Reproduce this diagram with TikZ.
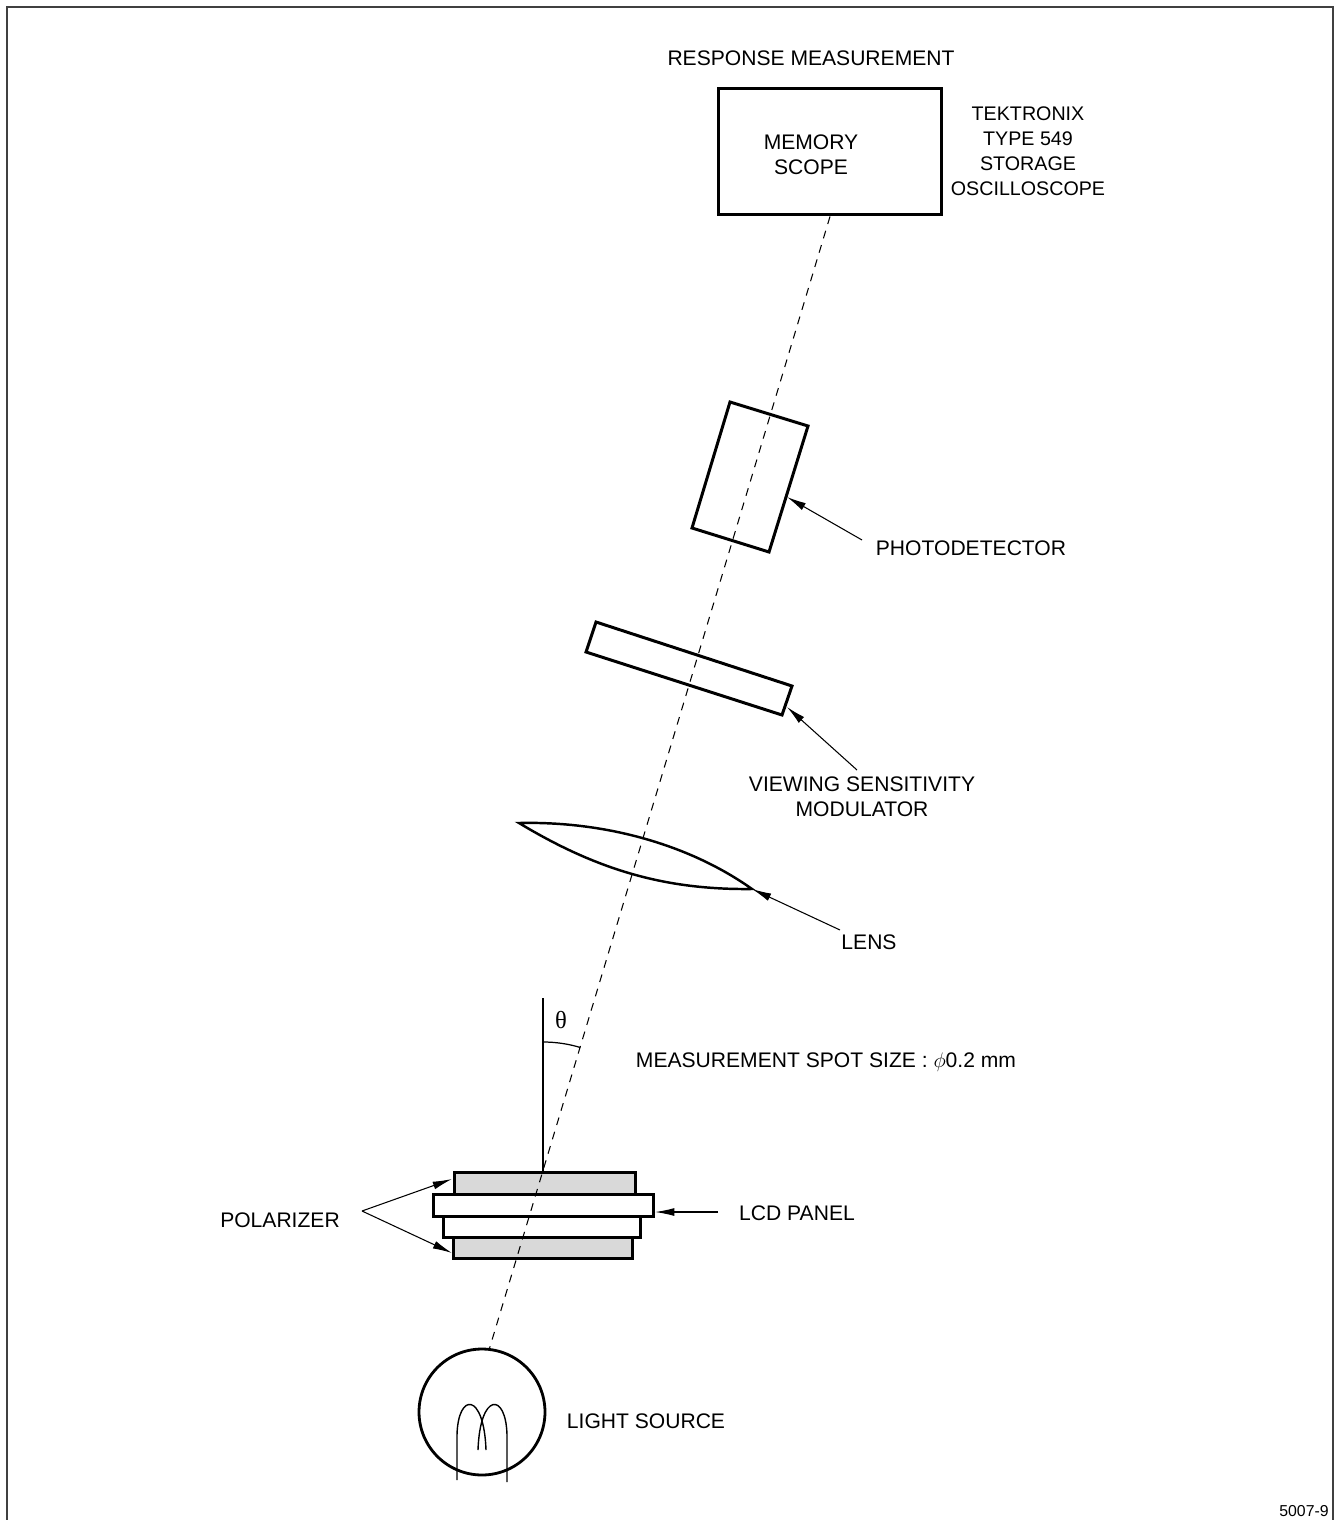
\documentclass[tikz,border=0pt]{standalone}
\usepackage{fontspec}
\setmainfont{Liberation Sans}
\newfontfamily\grk{Liberation Serif}
\usetikzlibrary{arrows.meta}

\begin{document}
\begin{tikzpicture}
[x=0.02cm,y=-0.02cm,font=\fontsize{12}{14.2}\selectfont,
part/.style={line width=1.7pt},
txt/.style={inner sep=0pt,align=center},
beam/.style={line width=0.6pt,dash pattern=on 4.5pt off 4pt},
ptr/.style={line width=0.6pt,-{Latex[length=11pt,width=4.5pt]}}]
\useasboundingbox (0,0) rectangle (1336,1520);
\draw[black!75,line width=1.1pt] (7,1520) -- (7,7) -- (1333,7) -- (1333,1520);
% scope
\node[draw,part,minimum width=4.48cm,minimum height=2.54cm] (v1) at (830,151.5) {};
\node[txt] (t0) at (811,58) {RESPONSE MEASUREMENT};
\node[txt] (t1) at (811,155) {MEMORY\\SCOPE};
\node[txt,font=\fontsize{11.2}{14.2}\selectfont] (t2) at (1028,151) {TEKTRONIX\\TYPE 549\\STORAGE\\OSCILLOSCOPE};
% optics
\draw[part] (730,402) -- (808,426) -- (769,552) -- (692,528) -- cycle;
\draw[part] (596,622) -- (792,686) -- (782,715) -- (586,652) -- cycle;
\draw[line width=1.4pt] (519,823) .. controls (606,821) and (690,845) .. (752,889)
  .. controls (665,890) and (597,870) .. (519,823) -- cycle;
% lcd panel
\draw[part,fill=black!15] (454,1172) rectangle (635,1194);
\draw[part,fill=white] (433,1194) rectangle (653,1216);
\draw[part,fill=white] (443,1216) rectangle (640,1237);
\draw[part,fill=black!15] (453,1237) rectangle (632,1258);
% lamp
\node[draw,circle,line width=1.6pt,minimum size=2.52cm,inner sep=0pt] (v2) at (482,1412) {};
\draw[line width=0.8pt] (457,1480) -- (457,1435) .. controls (458,1392) and (484,1392) .. (486,1450);
\draw[line width=0.8pt] (478,1450) .. controls (480,1392) and (506,1392) .. (507,1435) -- (507,1482);
% beam and angle
\coordinate (b1) at (489,1350);
\coordinate (c1) at (543,1172);
\coordinate (c2) at (543,998);
\draw[beam] (v1.south) -- (b1);
\draw[line width=0.7pt] (c1) -- (c2);
\draw[line width=0.7pt] (543,1042) arc[start angle=-90,end angle=-73.3,radius=130];
\node[txt,font=\fontsize{14}{16}\grk] (th) at (561,1020) {θ};
% labels
\node[txt] (t3) at (971,548) {PHOTODETECTOR};
\node[txt] (t4) at (862,797) {VIEWING SENSITIVITY\\MODULATOR};
\node[txt] (t5) at (869,942) {LENS};
\node[txt] (t6) at (826,1062) {MEASUREMENT SPOT SIZE : $\phi$0.2 mm};
\node[txt] (t7) at (280,1220) {POLARIZER};
\node[txt] (t8) at (797,1213) {LCD PANEL};
\node[txt] (t9) at (646,1421) {LIGHT SOURCE};
\node[txt,font=\fontsize{9}{11}\selectfont] (t10) at (1304,1511) {5007-9};
% pointers
\coordinate (a1) at (362,1211);
\coordinate (a2) at (718,1212);
\coordinate (a3) at (840,930);
\coordinate (a4) at (857,770);
\coordinate (a5) at (862,540);
\coordinate (p1) at (452,1179);
\coordinate (p2) at (452,1253);
\coordinate (p3) at (655,1212);
\coordinate (p4) at (752,889);
\coordinate (p5) at (787,707);
\coordinate (p6) at (787,497);
\foreach \from/\to in {a1/p1,a1/p2,a2/p3,a3/p4,a4/p5,a5/p6}
\draw[ptr] (\from) -- (\to);
\end{tikzpicture}
\end{document}
